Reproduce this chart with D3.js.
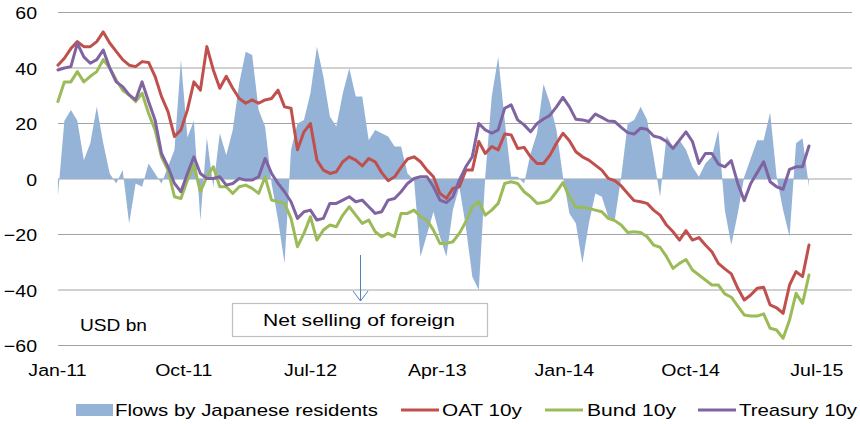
<!DOCTYPE html>
<html><head><meta charset="utf-8">
<script src="https://cdn.jsdelivr.net/npm/d3@7"></script>
<style>
body{margin:0;background:#fff}
svg{display:block}
text{font-family:"Liberation Sans",Arial,sans-serif;fill:#000}
</style>
</head><body>
<svg id="chart" width="860" height="424"></svg>
<script>
// ---- data (sampled every 2 weeks from 2011-01-03) ----
const startDate = "2011-01-03";
const stepDays = 14;
const flows = [-6,21,24.9,21,6.8,12.9,26,12.9,2,-1.6,3.2,-16,-1.6,-2.8,5.6,2,-1.6,4.4,10.5,43,15,21,-15,15,
 -3,16.5,8.6,17.7,34.5,45.9,44.7,24.9,18.9,-1.6,-14.8,-30.4,10.5,20,21.3,30.9,47.7,36.9,22.5,18.9,30.9,39.9,29.7,
 29.7,14,17.7,16.5,15.3,11.7,11.7,2,-0.4,-28,-20,-11.8,-20.8,-28,-11.2,-2.8,-17.2,-35.2,-40,0.8,29.7,44,21.3,
 0.8,0.8,-1.6,9.2,16.5,34.2,27.3,17.7,0.8,-12.4,-16,-30.4,-16,-5.2,-6.4,-13.6,-14.8,0.8,20,21.3,26,21.3,8,
 -6.4,15.5,11.7,14,10.5,4.4,0.8,5.6,8,17.7,-11.2,-23.8,-12.4,0.8,7.4,14,14,24,0.8,-11.2,-20.8,12.9,14.7,-2.8];
const oat = [41,43.5,47,49.5,47.7,47.7,49.5,53,49,46,43,41,40.5,42.3,42,37,29.7,24.3,15.3,17.7,24.9,35,32,47.7,
 39.3,32.7,37,32.7,29,27.3,28.5,27.3,28.5,29,32,26,25.5,10.5,17,20,6.8,3.2,2,2.6,6.2,8,6.8,
 4.7,7.4,6.2,2.3,-0.6,0.8,4.2,7.2,8,6.2,3.2,0.8,-5.2,-7,-3.4,-2.8,3.2,3.2,13.5,9.2,11.7,10.5,16.2,
 15.9,11,11.4,8,5.6,5.6,8.6,12.9,16.5,13.8,9.8,8,6.8,5,3.2,0.2,-0.6,-2.5,-5.2,-7.8,-8.2,-8.8,-11.2,
 -13,-16.6,-19,-22,-18.6,-22,-21.1,-23.8,-26.2,-30.4,-32.4,-34.2,-39.4,-43.6,-41.8,-39.4,-39,-45.4,-46.4,-48.4,-38.2,-33.4,-35.2,-23.8];
const bund = [27.9,35,35,38.7,35,37,38.7,43,40,35.7,32,30.3,27.9,30.9,23.7,17.7,8,3.2,-6.4,-7,-0.4,5,-4.6,0.8,
 4.4,-2.8,-2.8,-5.2,-2.8,-2.2,-3.4,-5.2,0.8,-7.6,-8.2,-8.8,-14.2,-24.4,-19.6,-13.6,-22,-18.4,-16.6,-17.2,-13,-10,-13,
 -16,-14.8,-19,-20.8,-19.6,-20.8,-12.4,-12.4,-11.2,-13.6,-14.8,-18.4,-23.2,-23.2,-22.6,-19.6,-15.4,-10,-8.2,-13,-11.2,-8.8,-1.6,
 -1,-1.6,-4.6,-6.4,-8.8,-8.5,-7.6,-4.6,-1.3,-6.4,-10.2,-10.2,-10.6,-11.2,-11.8,-14.2,-15,-16.6,-19.3,-19,-19.3,-20.8,-23.8,
 -24.6,-28,-32.2,-30.4,-29,-32.8,-34.6,-36.4,-38.2,-38.2,-41.4,-42.6,-45.8,-49,-49.4,-49.4,-48.6,-53.8,-54.4,-57.4,-50.8,-41.2,-44.8,-34.6];
const treasury = [39.3,40,40.5,48.9,44,41.7,43,46.5,40,35,33.3,30.3,28.5,35,27.9,21.3,9.2,4.4,-1.6,-4.6,2,8,2,0.2,
 0.2,0.8,-2.2,-1.6,0.2,-0.4,-0.4,0.8,7.4,2,-1.6,-4.6,-8.2,-14.2,-11.8,-11.2,-14.8,-14.2,-8.8,-8.8,-7.6,-6.4,-8.2,
 -7.6,-10,-12.4,-11.8,-7.6,-7,-4.6,-1.6,0.2,0.8,0.8,-2.8,-7.6,-8.5,-6.4,-0.4,4.4,8,20,17.7,16.5,17.7,25.5,
 26.7,21.3,19.5,17,20,21.6,23,26,29.4,26,21.5,21.3,20.7,23.4,22.2,20.9,20.7,18.6,16.7,16.2,18.3,17.9,15.5,
 14.9,13.5,11,14,17,13.5,5.6,9.2,9.2,5.4,4.4,6.6,-1.6,-7.8,-1.6,2.3,6.2,-1,-2.8,-3.7,3.5,4.4,4.4,11.9];
const yTicks = [60,40,20,0,-20,-40,-60];
const xTickDates = ["2011-01-01","2011-10-01","2012-07-01","2013-04-01","2014-01-01","2014-10-01","2015-07-01"];
const xTickLabels = ["Jan-11","Oct-11","Jul-12","Apr-13","Jan-14","Oct-14","Jul-15"];
const seriesNames = ["Flows by Japanese residents","OAT 10y","Bund 10y","Treasury 10y"];
const seriesColors = ["#95B3D7","#C0504D","#9BBB59","#8064A2"];
const unitLabel = "USD bn";
const annotationText = "Net selling of foreign";
const annotationDate = "2012-10-17";

// ---- chart ----
const parse = d3.utcParse("%Y-%m-%d");
const t0 = parse(startDate);
const dates = flows.map((_, i) => d3.utcDay.offset(t0, i * stepDays));

const svg = d3.select("#chart");
const x = d3.scaleUtc().domain([parse("2011-01-01"), parse("2015-09-16")]).range([57, 852]);
const y = d3.scaleLinear().domain([-60, 60]).range([345.5, 12.5]);
const plotL = 58, plotR = 852;

// gridlines
svg.append("g").selectAll("line").data(yTicks).join("line")
  .attr("x1", plotL).attr("x2", plotR)
  .attr("y1", d => y(d)).attr("y2", d => y(d))
  .attr("stroke", "#a3a3a3").attr("stroke-width", 1.2);

// y axis labels
const yAxis = svg.append("g").attr("transform", `translate(${plotL},0)`)
  .call(d3.axisLeft(y).tickValues(yTicks).tickSize(0).tickFormat(d3.format("d")));
yAxis.select(".domain").remove();
yAxis.selectAll("text")
  .attr("font-family", '"Liberation Sans",Arial,sans-serif').attr("font-size", 17)
  .attr("x", -21 / 1.15).attr("dy", "0.36em")
  .attr("transform", "scale(1.15,1)").attr("fill", "#000");

// x axis labels
const xAxis = svg.append("g").attr("transform", `translate(0,345)`)
  .call(d3.axisBottom(x).tickValues(xTickDates.map(parse)).tickSize(0)
    .tickFormat((d, i) => xTickLabels[i]));
xAxis.select(".domain").remove();
xAxis.selectAll("text")
  .attr("font-family", '"Liberation Sans",Arial,sans-serif').attr("font-size", 17)
  .attr("y", 31).attr("dy", 0)
  .attr("transform", "scale(1.15,1)").attr("fill", "#000");

// area
const area = d3.area().x((d, i) => x(dates[i])).y0(y(0)).y1(d => y(d));
svg.append("path").datum(flows).attr("d", area).attr("fill", seriesColors[0]);

// lines
const line = d3.line().x((d, i) => x(dates[i])).y(d => y(d));
[oat, bund, treasury].forEach((s, k) => {
  svg.append("path").datum(s).attr("d", line)
    .attr("fill", "none").attr("stroke", seriesColors[k + 1])
    .attr("stroke-width", 3).attr("stroke-linejoin", "round").attr("stroke-linecap", "round");
});

// annotation
const ax = Math.round(x(parse(annotationDate))) + 0.5;
svg.append("line").attr("x1", ax).attr("x2", ax).attr("y1", 255).attr("y2", 301)
  .attr("stroke", "#4F81BD").attr("stroke-width", 1);
svg.append("polyline").attr("points", `${ax-7.5},291 ${ax},301 ${ax+7.5},291`)
  .attr("fill", "none").attr("stroke", "#4F81BD").attr("stroke-width", 1);
svg.append("rect").attr("x", 232.5).attr("y", 303.5).attr("width", 255).attr("height", 33)
  .attr("fill", "#fff").attr("stroke", "#bfbfbf").attr("stroke-width", 1.2);
svg.append("text").attr("x", 263).attr("y", 326).attr("font-size", 17)
  .attr("textLength", 192).attr("lengthAdjust", "spacingAndGlyphs").text(annotationText);
svg.append("text").attr("x", 80).attr("y", 331).attr("font-size", 17)
  .attr("textLength", 67).attr("lengthAdjust", "spacingAndGlyphs").text(unitLabel);

// legend
const lg = svg.append("g");
lg.append("rect").attr("x", 76).attr("y", 404).attr("width", 37).attr("height", 12).attr("fill", seriesColors[0]);
const legendItems = [
  {name: seriesNames[0], tx: 115, tw: 263},
  {name: seriesNames[1], lx: 401, tx: 442, tw: 80},
  {name: seriesNames[2], lx: 545, tx: 587, tw: 89},
  {name: seriesNames[3], lx: 698, tx: 739, tw: 118}
];
legendItems.forEach((d, k) => {
  if (k > 0) lg.append("line").attr("x1", d.lx).attr("x2", d.lx + 38).attr("y1", 410).attr("y2", 410)
    .attr("stroke", seriesColors[k]).attr("stroke-width", 3);
  lg.append("text").attr("x", d.tx).attr("y", 416).attr("font-size", 17)
    .attr("textLength", d.tw).attr("lengthAdjust", "spacingAndGlyphs").text(d.name);
});
</script>
</body></html>
